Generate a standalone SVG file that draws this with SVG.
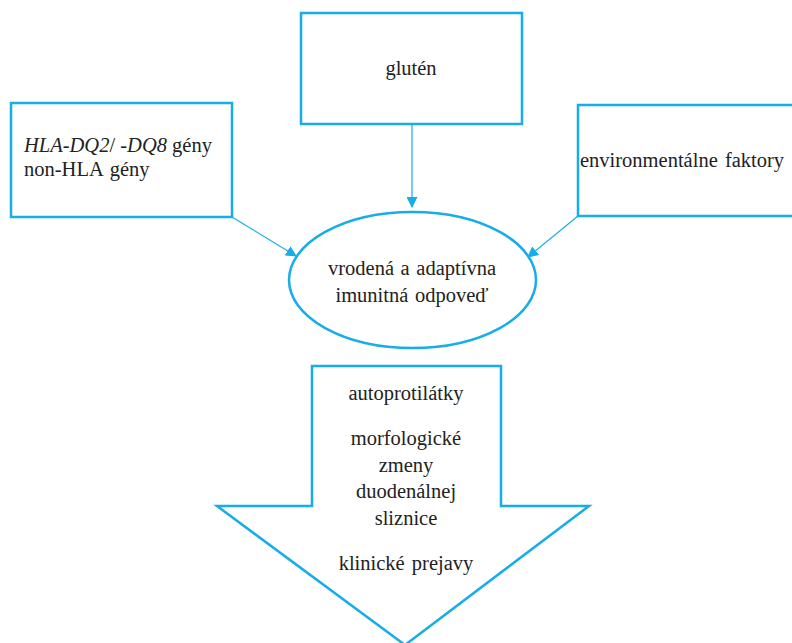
<svg xmlns="http://www.w3.org/2000/svg" width="792" height="643" viewBox="0 0 792 643">
<defs>
<style>
.box{fill:#fff;stroke:#17ADE8;stroke-width:2.5}
.t{font-family:"Liberation Serif","Times New Roman",serif;font-size:20.5px;fill:#222}
.c{stroke:#17ADE8;stroke-width:1.2;fill:none}
</style>
<marker id="ah" viewBox="0 0 10 10" refX="9" refY="5" markerWidth="11" markerHeight="11" markerUnits="userSpaceOnUse" orient="auto">
<path d="M0,0 L10,5 L0,10 z" fill="#17ADE8"/>
</marker>
</defs>
<rect width="792" height="643" fill="#fff"/>
<g id="connectors">
<line class="c" x1="412" y1="124" x2="412" y2="207" marker-end="url(#ah)"/>
<line class="c" x1="232" y1="217" x2="296" y2="256" marker-end="url(#ah)"/>
<line class="c" x1="578" y1="216" x2="528" y2="257" marker-end="url(#ah)"/>
</g>
<g id="genes">
<rect class="box" x="11" y="103" width="221" height="114"/>
<text class="t" x="24" y="152"><tspan font-style="italic">HLA-DQ2</tspan>/ <tspan font-style="italic">-DQ8</tspan> gény</text>
<text class="t" x="24" y="176" word-spacing="2">non-HLA gény</text>
</g>
<g id="gluten">
<rect class="box" x="301" y="13" width="221" height="111"/>
<text class="t" x="411" y="75" text-anchor="middle">glutén</text>
</g>
<g id="environment">
<rect class="box" x="578" y="105" width="230" height="111"/>
<text class="t" x="580" y="167" word-spacing="2">environmentálne faktory</text>
</g>
<g id="immune">
<ellipse class="box" cx="412.5" cy="280" rx="123.5" ry="68"/>
<text class="t" x="412" y="275" text-anchor="middle" word-spacing="1.5">vrodená a adaptívna</text>
<text class="t" x="412" y="302" text-anchor="middle" word-spacing="1.5">imunitná odpoveď</text>
</g>
<g id="outcomes">
<path class="box" d="M312,366 L501,366 L501,506 L589,506 L405,645 L217,506 L312,506 Z"/>
<text class="t" x="406" y="400" text-anchor="middle">autoprotilátky</text>
<text class="t" x="406" y="445" text-anchor="middle">morfologické</text>
<text class="t" x="406" y="472" text-anchor="middle">zmeny</text>
<text class="t" x="406" y="498" text-anchor="middle">duodenálnej</text>
<text class="t" x="406" y="525" text-anchor="middle">sliznice</text>
<text class="t" x="406" y="570" text-anchor="middle" word-spacing="2">klinické prejavy</text>
</g>
</svg>
